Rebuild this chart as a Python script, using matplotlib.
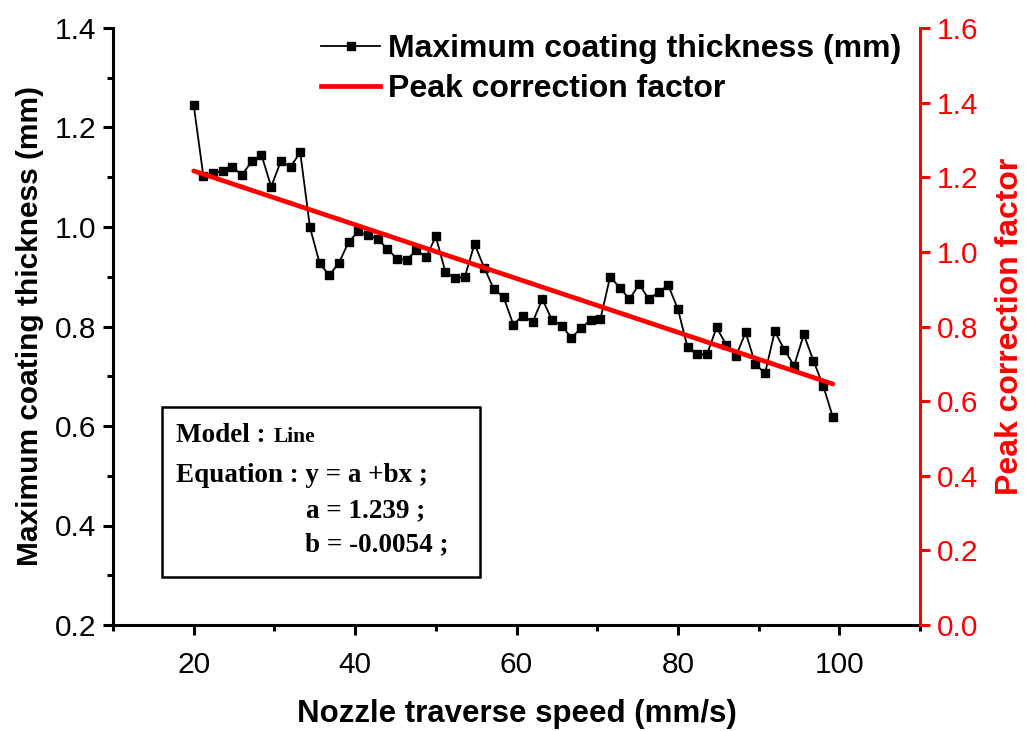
import matplotlib
matplotlib.use("Agg")
import matplotlib.pyplot as plt
from matplotlib.lines import Line2D
from matplotlib.patches import Rectangle
from matplotlib.ticker import MultipleLocator

plt.rcParams['font.family'] = ['Liberation Sans', 'DejaVu Sans']

# nozzle traverse speed (mm/s)
speed = [20.0, 21.2, 22.4, 23.6, 24.8, 26.0, 27.2, 28.4, 29.6, 30.8,
         32.0, 33.2, 34.4, 35.6, 36.8, 38.0, 39.2, 40.4, 41.6, 42.8,
         44.0, 45.2, 46.4, 47.6, 48.8, 50.0, 51.2, 52.4, 53.6, 54.8,
         56.0, 57.2, 58.4, 59.6, 60.8, 62.0, 63.2, 64.4, 65.6, 66.8,
         68.0, 69.2, 70.4, 71.6, 72.8, 74.0, 75.2, 76.4, 77.6, 78.8,
         80.0, 81.2, 82.4, 83.6, 84.8, 86.0, 87.2, 88.4, 89.6, 90.8,
         92.0, 93.2, 94.4, 95.6, 96.8, 98.0, 99.2]
# maximum coating thickness (mm)
thickness = [1.245, 1.102, 1.108, 1.113, 1.120, 1.105, 1.132, 1.145, 1.081, 1.132,
             1.121, 1.150, 1.000, 0.927, 0.903, 0.928, 0.970, 0.991, 0.983, 0.976,
             0.956, 0.936, 0.934, 0.954, 0.939, 0.981, 0.909, 0.897, 0.900, 0.966,
             0.918, 0.875, 0.859, 0.804, 0.822, 0.809, 0.855, 0.813, 0.802, 0.777,
             0.797, 0.813, 0.815, 0.900, 0.878, 0.855, 0.885, 0.855, 0.869, 0.883,
             0.835, 0.758, 0.744, 0.744, 0.798, 0.763, 0.741, 0.788, 0.724, 0.706,
             0.790, 0.753, 0.721, 0.784, 0.731, 0.681, 0.618]
# peak correction factor (linear)
corr_speed = [20.0, 99.2]
corr_factor = [1.217, 0.646]

W, H = 1029, 731
fig = plt.figure(figsize=(W / 100, H / 100), dpi=100)
ax = fig.add_axes([113 / W, (H - 625) / H, 807 / W, 597 / H])
ax2 = ax.twinx()

ax.plot(speed, thickness, color='black', lw=1.3, marker='s', ms=5.5)
ax2.plot(corr_speed, corr_factor, color='red', lw=3.4, solid_capstyle='round')

ax.set_xlim(10, 110)
ax.set_ylim(0.2, 1.4)
ax2.set_ylim(0.0, 1.6)
ax.xaxis.set_major_locator(MultipleLocator(20))
ax.xaxis.set_minor_locator(MultipleLocator(10))
ax.yaxis.set_major_locator(MultipleLocator(0.2))
ax.yaxis.set_minor_locator(MultipleLocator(0.1))
ax2.yaxis.set_major_locator(MultipleLocator(0.2))
ax2.yaxis.set_minor_locator(MultipleLocator(10))

for a in (ax, ax2):
    a.spines['top'].set_visible(False)
    for s in a.spines.values():
        s.set_linewidth(2.2)
ax.spines['right'].set_visible(False)
ax2.spines['left'].set_visible(False)
ax2.spines['bottom'].set_visible(False)
ax2.spines['right'].set_color('red')

ax.tick_params(which='major', direction='out', length=7, width=2.2, labelsize=21.5, pad=5)
ax.tick_params(axis='x', which='major', pad=12)
ax.tick_params(which='minor', direction='out', length=4, width=2.2)
ax2.tick_params(which='major', direction='out', length=7, width=2.2, labelsize=21.5,
                colors='red', pad=5)
ax.yaxis.set_major_formatter(plt.FormatStrFormatter('%.1f'))
ax2.yaxis.set_major_formatter(plt.FormatStrFormatter('%.1f'))
ax.xaxis.set_major_formatter(plt.FormatStrFormatter('%d'))

ax.set_xlabel('Nozzle traverse speed (mm/s)', fontsize=22.5, fontweight='bold', labelpad=14)
ax.set_ylabel('Maximum coating thickness (mm)', fontsize=21.5, fontweight='bold', labelpad=8)
ax2.set_ylabel('Peak correction factor', fontsize=23, fontweight='bold', color='red',
               labelpad=12)

handles = [Line2D([], [], color='black', lw=1.3, marker='s', ms=5.5),
           Line2D([], [], color='red', lw=3.4)]
fig.legend(handles, ['Maximum coating thickness (mm)', 'Peak correction factor'],
           loc='upper left', bbox_to_anchor=(299 / W, 1 - 12 / H), frameon=False,
           prop={'size': 23, 'weight': 'bold'}, handlelength=1.85, handletextpad=0.25,
           labelspacing=0.3, borderpad=0.2)

# fit result box
fig.patches.append(Rectangle((162 / W, 1 - 577 / H), 318 / W, 170 / H,
                             transform=fig.transFigure, fill=False, lw=1.8,
                             edgecolor='black'))
serif = ['Liberation Serif', 'DejaVu Serif']
fig.text(176 / W, 1 - 442 / H, 'Model :', family=serif, fontweight='bold', fontsize=19.5)
fig.text(274 / W, 1 - 442 / H, 'Line', family=serif, fontweight='bold', fontsize=15.5)
fig.text(176 / W, 1 - 482 / H, 'Equation : y = a +bx ;', family=serif, fontweight='bold',
         fontsize=19.5)
fig.text(306 / W, 1 - 517 / H, 'a = 1.239 ;', family=serif, fontweight='bold', fontsize=19.5)
fig.text(305 / W, 1 - 551 / H, 'b = -0.0054 ;', family=serif, fontweight='bold', fontsize=19.5)

fig.savefig('out.png', dpi=100)
